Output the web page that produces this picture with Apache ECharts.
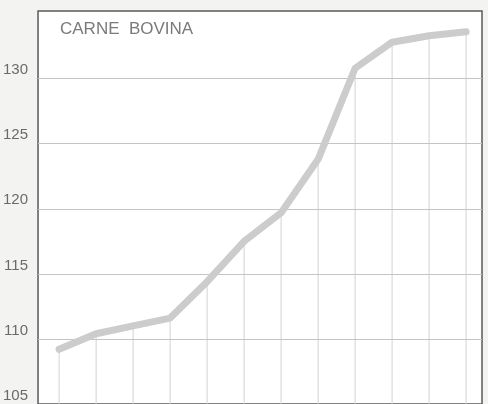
<!DOCTYPE html>
<html style="height: 100%">
<head>
    <meta charset="utf-8">
    <title>Carne bovina</title>
    <script src="https://cdn.jsdelivr.net/npm/echarts@6/dist/echarts.min.js"></script>
</head>
<body style="height: 100%; margin: 0">
<div id="main" style="width: 488px; height: 404px"></div>
<script type="text/javascript">
    // valores (12 períodos)
    var valores = [109.2, 110.4, 111.0, 111.6, 114.4, 117.5, 119.7, 123.8, 130.8, 132.8, 133.3, 133.6];
    var linhasGrade = [110, 115, 120, 125, 130];
    var titulo = 'CARNE  BOVINA';
    var yMin = 105, yMax = 135.2;

    var pontos = [];
    for (var i = 0; i < valores.length; i++) {
        pontos.push([i, valores[i]]);
    }

    var myChart = echarts.init(document.getElementById('main'));
    var option = {
        backgroundColor: '#f3f3f1',
        animation: false,
        title: {
            text: titulo,
            left: 60,
            top: 21,
            padding: 0,
            textStyle: {
                color: '#7a7a7a',
                fontSize: 17,
                fontWeight: 'normal',
                fontFamily: 'Liberation Sans'
            }
        },
        grid: {
            left: 38, right: 6, top: 11, bottom: -3,
            show: true,
            backgroundColor: '#ffffff',
            borderColor: '#5a5a5a',
            borderWidth: 1.5
        },
        xAxis: {
            type: 'value',
            min: -0.57,
            max: 11.43,
            show: false
        },
        yAxis: {
            type: 'value',
            min: yMin,
            max: yMax,
            interval: 5,
            axisLine: { show: false },
            axisTick: { show: false },
            splitLine: { show: false },
            axisLabel: {
                margin: 10,
                color: '#6a6a6a',
                fontSize: 15,
                fontFamily: 'Liberation Sans',
                verticalAlign: 'bottom',
                padding: [0, 0, 1, 0],
                formatter: function (v) {
                    return v > 130 ? '' : String(v);
                }
            }
        },
        series: [{
            type: 'custom',
            data: pontos,
            silent: true,
            renderItem: function (params, api) {
                var topo = api.coord([api.value(0), api.value(1)]);
                var base = api.coord([api.value(0), yMin]);
                return {
                    type: 'line',
                    shape: { x1: topo[0], y1: topo[1], x2: base[0], y2: base[1] },
                    style: { stroke: '#d2d2d2', lineWidth: 1 }
                };
            },
            markLine: {
                silent: true,
                symbol: 'none',
                label: { show: false },
                lineStyle: { color: '#c4c4c4', width: 1, type: 'solid' },
                data: linhasGrade.map(function (v) { return { yAxis: v }; })
            }
        }, {
            type: 'line',
            data: pontos,
            symbol: 'none',
            lineStyle: { color: '#cccccc', width: 7, join: 'round', cap: 'round' },
            z: 5
        }]
    };
    myChart.setOption(option);
</script>
</body>
</html>
